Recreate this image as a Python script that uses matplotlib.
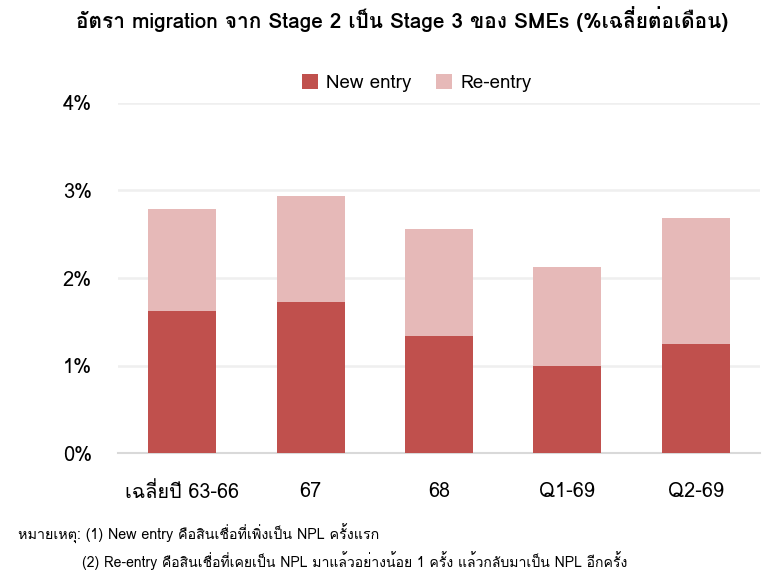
import numpy as np
import matplotlib
matplotlib.use("Agg")
import matplotlib.pyplot as plt

# Loma วาดวรรณยุกต์ไทยได้ถูกตำแหน่งโดยไม่ต้องใช้ shaping
plt.rcParams['font.family'] = ['Loma', 'DejaVu Sans']

# ข้อมูล (% ต่อเดือน)
categories = ["เฉลี่ยปี 63-66", "67", "68", "Q1-69", "Q2-69"]
new_entry = [1.62, 1.73, 1.34, 1.00, 1.25]
re_entry = [1.17, 1.21, 1.22, 1.13, 1.44]
yticks = [0, 1, 2, 3, 4]

dark = "#C0504D"
light = "#E6B9B8"

fig = plt.figure(figsize=(7.73, 5.75), dpi=100)
ax = fig.add_axes([0.153, 0.212, 0.830, 0.609])

x = np.arange(len(categories))
width = 0.53
ax.bar(x, new_entry, width, color=dark, label="New entry", zorder=3)
ax.bar(x, re_entry, width, bottom=new_entry, color=light, label="Re-entry", zorder=3)

ax.set_xlim(-0.5, 4.5)
ax.set_ylim(0, 4)
ax.set_yticks(yticks)
ax.set_yticklabels([f"{t}%" for t in yticks], fontsize=14.5)
ax.set_xticks(x)
ax.set_xticklabels(categories, fontsize=14.3)
ax.tick_params(axis='y', length=0, pad=19)
ax.tick_params(axis='x', length=0, pad=21)

for t in yticks[1:]:
    ax.axhline(t, color="#EFEFEF", lw=1.8, zorder=1)
for s in ["top", "right", "left"]:
    ax.spines[s].set_visible(False)
ax.spines["bottom"].set_color("#D9D9D9")
ax.spines["bottom"].set_linewidth(1.5)

fig.legend(loc="center", bbox_to_anchor=(0.539, 0.855), ncol=2, frameon=False,
           fontsize=13.5, handlelength=0.85, handleheight=0.85, columnspacing=1.3,
           handletextpad=0.45)

fig.text(0.52, 0.967, "อัตรา migration จาก Stage 2 เป็น Stage 3 ของ SMEs (%เฉลี่ยต่อเดือน)",
         ha="center", va="center", fontsize=15, fontweight="bold")

fig.text(0.023, 0.071, "หมายเหตุ: (1) New entry คือสินเชื่อที่เพิ่งเป็น NPL ครั้งแรก",
         ha="left", va="center", fontsize=10.3)
fig.text(0.106, 0.026, "(2) Re-entry คือสินเชื่อที่เคยเป็น NPL มาแล้วอย่างน้อย 1 ครั้ง แล้วกลับมาเป็น NPL อีกครั้ง",
         ha="left", va="center", fontsize=10.1)

fig.savefig("out.png", dpi=100)
